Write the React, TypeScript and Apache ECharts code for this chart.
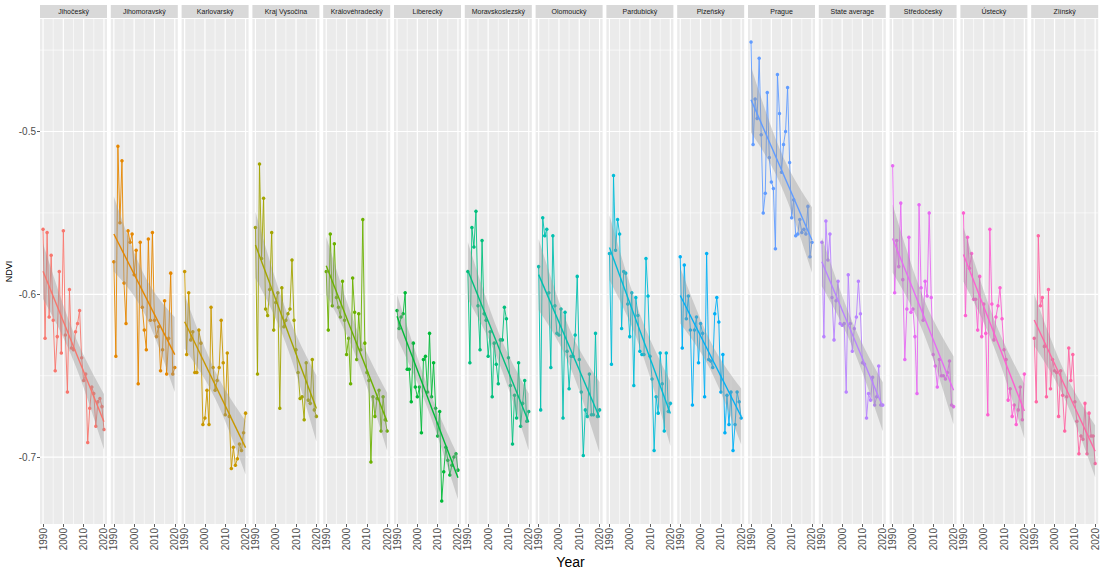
import React, { useEffect, useRef } from "react";
import * as echarts from "echarts";

const years = [1990, 1991, 1992, 1993, 1994, 1995, 1996, 1997, 1998, 1999, 2000, 2001, 2002, 2003, 2004, 2005, 2006, 2007, 2008, 2009, 2010, 2011, 2012, 2013, 2014, 2015, 2016, 2017, 2018, 2019, 2020];

const regions = ["Jihočeský", "Jihomoravský", "Karlovarský", "Kraj Vysočina", "Královéhradecký", "Liberecký", "Moravskoslezský", "Olomoucký", "Pardubický", "Plzeňský", "Prague", "State average", "Středočeský", "Ústecký", "Zlínský"];

const colors = ["#F8766D", "#E58700", "#C99800", "#A3A500", "#6BB100", "#00BA38", "#00BF7D", "#00C0AF", "#00BCD8", "#00B0F6", "#619CFF", "#B983FF", "#E76BF3", "#FD61D1", "#FF67A4"];

const jihocesky = [-0.560, -0.627, -0.562, -0.614, -0.576, -0.616, -0.647, -0.626, -0.586, -0.636, -0.561, -0.625, -0.660, -0.597, -0.633, -0.634, -0.623, -0.618, -0.610, -0.639, -0.653, -0.649, -0.691, -0.670, -0.657, -0.661, -0.681, -0.666, -0.664, -0.669, -0.683];
const jihomoravsky = [-0.580, -0.638, -0.509, -0.556, -0.518, -0.593, -0.618, -0.561, -0.568, -0.563, -0.588, -0.573, -0.655, -0.568, -0.608, -0.622, -0.634, -0.566, -0.616, -0.562, -0.616, -0.626, -0.620, -0.647, -0.634, -0.604, -0.649, -0.627, -0.587, -0.649, -0.645];
const karlovarsky = [-0.586, -0.637, -0.599, -0.628, -0.623, -0.648, -0.648, -0.622, -0.630, -0.680, -0.676, -0.659, -0.680, -0.608, -0.645, -0.659, -0.653, -0.645, -0.616, -0.642, -0.674, -0.636, -0.675, -0.707, -0.694, -0.705, -0.701, -0.692, -0.696, -0.685, -0.673];
const vysocina = [-0.559, -0.649, -0.520, -0.578, -0.541, -0.609, -0.613, -0.597, -0.562, -0.622, -0.605, -0.599, -0.670, -0.596, -0.620, -0.616, -0.612, -0.609, -0.579, -0.616, -0.634, -0.648, -0.664, -0.663, -0.677, -0.642, -0.665, -0.667, -0.640, -0.671, -0.675];
const kralovehradecky = [-0.586, -0.622, -0.563, -0.607, -0.569, -0.602, -0.608, -0.614, -0.592, -0.616, -0.637, -0.627, -0.655, -0.590, -0.611, -0.640, -0.612, -0.634, -0.554, -0.630, -0.648, -0.653, -0.703, -0.663, -0.675, -0.664, -0.659, -0.684, -0.663, -0.677, -0.684];
const liberecky = [-0.610, -0.621, -0.614, -0.612, -0.599, -0.646, -0.646, -0.666, -0.630, -0.657, -0.663, -0.657, -0.685, -0.640, -0.638, -0.660, -0.624, -0.663, -0.642, -0.670, -0.687, -0.672, -0.727, -0.709, -0.694, -0.702, -0.711, -0.705, -0.700, -0.698, -0.708];
const moravskoslezsky = [-0.586, -0.642, -0.559, -0.571, -0.549, -0.607, -0.634, -0.567, -0.612, -0.616, -0.638, -0.623, -0.663, -0.630, -0.643, -0.655, -0.628, -0.628, -0.608, -0.615, -0.639, -0.656, -0.692, -0.662, -0.676, -0.642, -0.681, -0.667, -0.653, -0.678, -0.672];
const olomoucky = [-0.583, -0.671, -0.553, -0.564, -0.560, -0.599, -0.645, -0.564, -0.607, -0.624, -0.625, -0.609, -0.676, -0.611, -0.635, -0.658, -0.638, -0.638, -0.625, -0.589, -0.640, -0.660, -0.699, -0.671, -0.675, -0.649, -0.674, -0.674, -0.624, -0.675, -0.671];
const pardubicky = [-0.575, -0.643, -0.527, -0.573, -0.554, -0.563, -0.621, -0.586, -0.587, -0.606, -0.626, -0.599, -0.656, -0.602, -0.613, -0.635, -0.637, -0.637, -0.578, -0.601, -0.638, -0.652, -0.696, -0.663, -0.673, -0.636, -0.655, -0.684, -0.636, -0.672, -0.667];
const plzensky = [-0.577, -0.633, -0.582, -0.615, -0.601, -0.622, -0.668, -0.622, -0.614, -0.642, -0.618, -0.624, -0.663, -0.575, -0.640, -0.641, -0.645, -0.612, -0.602, -0.617, -0.660, -0.637, -0.685, -0.662, -0.680, -0.660, -0.696, -0.680, -0.660, -0.666, -0.676];
const prague = [-0.445, -0.508, -0.480, -0.492, -0.455, -0.502, -0.550, -0.538, -0.476, -0.516, -0.531, -0.535, -0.572, -0.465, -0.489, -0.525, -0.508, -0.500, -0.473, -0.519, -0.553, -0.542, -0.564, -0.563, -0.554, -0.562, -0.560, -0.563, -0.546, -0.577, -0.568];
const stateAverage = [-0.568, -0.626, -0.555, -0.579, -0.563, -0.602, -0.628, -0.604, -0.592, -0.618, -0.619, -0.618, -0.660, -0.588, -0.618, -0.635, -0.621, -0.614, -0.592, -0.612, -0.642, -0.643, -0.676, -0.661, -0.665, -0.651, -0.668, -0.663, -0.644, -0.668, -0.668];
const stredocesky = [-0.521, -0.599, -0.567, -0.583, -0.544, -0.591, -0.640, -0.609, -0.565, -0.611, -0.609, -0.626, -0.661, -0.545, -0.596, -0.616, -0.592, -0.601, -0.550, -0.602, -0.637, -0.644, -0.657, -0.640, -0.650, -0.650, -0.652, -0.648, -0.641, -0.668, -0.669];
const ustecky = [-0.550, -0.613, -0.565, -0.584, -0.575, -0.603, -0.603, -0.622, -0.589, -0.626, -0.606, -0.624, -0.674, -0.560, -0.606, -0.628, -0.614, -0.607, -0.596, -0.615, -0.634, -0.640, -0.665, -0.658, -0.675, -0.668, -0.680, -0.671, -0.657, -0.677, -0.649];
const zlinsky = [-0.627, -0.666, -0.564, -0.607, -0.602, -0.632, -0.663, -0.597, -0.658, -0.640, -0.647, -0.648, -0.675, -0.647, -0.662, -0.684, -0.663, -0.633, -0.653, -0.637, -0.666, -0.678, -0.698, -0.687, -0.689, -0.667, -0.698, -0.673, -0.687, -0.687, -0.704];

const panelValues = [jihocesky, jihomoravsky, karlovarsky, vysocina, kralovehradecky, liberecky, moravskoslezsky, olomoucky, pardubicky, plzensky, prague, stateAverage, stredocesky, ustecky, zlinsky];

const xTickValues = [1990, 2000, 2010, 2020];
const xMinorValues = [1995, 2005, 2015];
const yTickValues = [-0.7, -0.6, -0.5];
const yMinorValues = [-0.65, -0.55, -0.45];

const FONT = "Liberation Sans, Arial, sans-serif";
const W = 1101;
const H = 569;
const PANEL_LEFT = 40;
const PANEL_STEP = 70.8;
const PANEL_W = 67;
const PANEL_TOP = 19;
const PANEL_BOTTOM = 524;
const T_CRIT = 2.045;

function linFit(xs: number[], ys: number[]) {
  const n = xs.length;
  const mx = xs.reduce((a, b) => a + b, 0) / n;
  const my = ys.reduce((a, b) => a + b, 0) / n;
  let sxx = 0, sxy = 0;
  for (let i = 0; i < n; i++) {
    sxx += (xs[i] - mx) ** 2;
    sxy += (xs[i] - mx) * (ys[i] - my);
  }
  const b = sxy / sxx;
  const a = my - b * mx;
  let sse = 0;
  for (let i = 0; i < n; i++) sse += (ys[i] - a - b * xs[i]) ** 2;
  const s = Math.sqrt(sse / (n - 2));
  return { a, b, s, n, mx, sxx };
}

export default function App() {
  const ref = useRef<HTMLDivElement>(null);
  useEffect(() => {
    document.body.style.margin = "0";
    if (!ref.current) return;
    const chart = echarts.init(ref.current, undefined, { renderer: "svg" });

    const all = panelValues.flat();
    const dmin = Math.min(...all);
    const dmax = Math.max(...all);
    const yExp = (dmax - dmin) * 0.05;
    const Y_MIN = dmin - yExp;
    const Y_MAX = dmax + yExp;
    const xExp = (years[years.length - 1] - years[0]) * 0.05;
    const X_MIN = years[0] - xExp;
    const X_MAX = years[years.length - 1] + xExp;

    const grids: any[] = [];
    const xAxes: any[] = [];
    const yAxes: any[] = [];
    const series: any[] = [];
    const graphics: any[] = [];

    panelValues.forEach((vals, k) => {
      const left = PANEL_LEFT + PANEL_STEP * k;
      grids.push({
        left,
        top: PANEL_TOP,
        width: PANEL_W,
        height: PANEL_BOTTOM - PANEL_TOP,
        show: true,
        backgroundColor: "#ebebeb",
        borderWidth: 0,
        containLabel: false,
      });
      xAxes.push({
        type: "value",
        gridIndex: k,
        min: X_MIN,
        max: X_MAX,
        axisLine: { show: false },
        splitLine: { show: false },
        axisTick: { show: true, customValues: xTickValues, length: 3, lineStyle: { color: "#333333", width: 0.8 } },
        axisLabel: {
          show: true,
          customValues: xTickValues,
          rotate: 90,
          margin: 4,
          fontSize: 10,
          color: "#4d4d4d",
          fontFamily: FONT,
          formatter: (v: number) => (Math.abs(v % 10) < 1e-6 ? String(v) : ""),
        },
      });
      yAxes.push({
        type: "value",
        gridIndex: k,
        min: Y_MIN,
        max: Y_MAX,
        axisLine: { show: false },
        splitLine: { show: false },
        axisTick: { show: k === 0, customValues: yTickValues, length: 3, lineStyle: { color: "#333333", width: 0.8 } },
        axisLabel: {
          show: k === 0,
          customValues: yTickValues,
          margin: 4,
          fontSize: 10,
          color: "#4d4d4d",
          fontFamily: FONT,
          formatter: (v: number) => {
            const r = Math.round(v * 10) / 10;
            return Math.abs(r - v) < 1e-6 ? r.toFixed(1) : "";
          },
        },
        name: k === 0 ? "NDVI" : "",
        nameLocation: "middle",
        nameRotate: 90,
        nameGap: 27,
        nameTextStyle: { fontSize: 9, color: "#000000", fontFamily: FONT },
      });

      // gridlines
      series.push({
        type: "custom",
        xAxisIndex: k,
        yAxisIndex: k,
        z: 1,
        silent: true,
        data: [[years[0], vals[0]]],
        renderItem: (params: any, api: any) => {
          const cs = params.coordSys;
          const children: any[] = [];
          const vline = (v: number, w: number) => {
            const p = api.coord([v, Y_MIN]);
            children.push({ type: "line", shape: { x1: p[0], y1: cs.y, x2: p[0], y2: cs.y + cs.height }, style: { stroke: "#ffffff", lineWidth: w } });
          };
          const hline = (v: number, w: number) => {
            const p = api.coord([X_MIN, v]);
            children.push({ type: "line", shape: { x1: cs.x, y1: p[1], x2: cs.x + cs.width, y2: p[1] }, style: { stroke: "#ffffff", lineWidth: w } });
          };
          xMinorValues.forEach((v) => vline(v, 0.6));
          yMinorValues.forEach((v) => hline(v, 0.6));
          xTickValues.forEach((v) => vline(v, 1.2));
          yTickValues.forEach((v) => hline(v, 1.2));
          return { type: "group", children };
        },
      });

      // data
      series.push({
        type: "line",
        xAxisIndex: k,
        yAxisIndex: k,
        z: 2,
        silent: true,
        data: years.map((yr, i) => [yr, vals[i]]),
        symbol: "circle",
        symbolSize: 3.5,
        showSymbol: true,
        lineStyle: { color: colors[k], width: 0.9 },
        itemStyle: { color: colors[k] },
      });

      const f = linFit(years, vals);
      const upper: number[][] = [];
      const lower: number[][] = [];
      years.forEach((x) => {
        const yhat = f.a + f.b * x;
        const se = f.s * Math.sqrt(1 / f.n + (x - f.mx) ** 2 / f.sxx);
        upper.push([x, yhat + T_CRIT * se]);
        lower.push([x, yhat - T_CRIT * se]);
      });

      // confidence band
      series.push({
        type: "custom",
        xAxisIndex: k,
        yAxisIndex: k,
        z: 3,
        silent: true,
        data: [[years[0], vals[0]]],
        renderItem: (_params: any, api: any) => {
          const pts = upper.map((p) => api.coord(p)).concat(lower.slice().reverse().map((p) => api.coord(p)));
          return { type: "polygon", shape: { points: pts }, style: { fill: "rgba(153,153,153,0.4)" } };
        },
      });

      // regression line
      series.push({
        type: "line",
        xAxisIndex: k,
        yAxisIndex: k,
        z: 4,
        silent: true,
        symbol: "none",
        data: [
          [years[0], f.a + f.b * years[0]],
          [years[years.length - 1], f.a + f.b * years[years.length - 1]],
        ],
        lineStyle: { color: colors[k], width: 1.4 },
      });

      // strip
      graphics.push({
        type: "rect",
        shape: { x: left, y: 5, width: PANEL_W, height: 13 },
        style: { fill: "#d9d9d9" },
        silent: true,
      });
      graphics.push({
        type: "text",
        x: left + PANEL_W / 2,
        y: 11.5,
        style: { text: regions[k], fill: "#1a1a1a", fontSize: 7, fontFamily: FONT, align: "center", verticalAlign: "middle" },
        silent: true,
      });
    });

    graphics.push({
      type: "text",
      x: (PANEL_LEFT + W) / 2,
      y: 562,
      style: { text: "Year", fill: "#000000", fontSize: 14, fontFamily: FONT, align: "center", verticalAlign: "middle" },
      silent: true,
    });

    chart.setOption({
      animation: false,
      backgroundColor: "#ffffff",
      grid: grids,
      xAxis: xAxes,
      yAxis: yAxes,
      series,
      graphic: graphics,
    });
    return () => chart.dispose();
  }, []);
  return <div ref={ref} style={{ width: W, height: H }} />;
}
